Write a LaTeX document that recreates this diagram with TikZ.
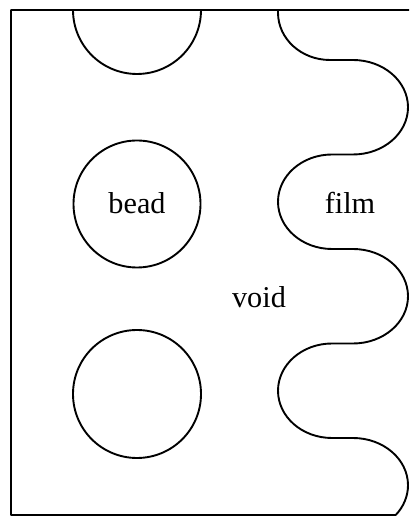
\documentclass[tikz,border=0pt]{standalone}
\usepackage{fontspec}
\setmainfont{Liberation Serif}
\begin{document}
\begin{tikzpicture}[x=0.025cm, y=0.025cm,
    outline/.style={line width=1.35pt, line join=round},
    lbl/.style={font=\fontsize{21.5}{24}\selectfont, inner sep=0pt}]
    \useasboundingbox (0,0) rectangle (409,517);

    % 小球
    \draw[outline] (73,507) arc (180:360:64);
    \draw[outline] (137,313) circle (63.5);
    \draw[outline] (137,123) circle (64);

    % 膜的波形边界
    \draw[outline] (278,507) -- (278,504.25)
        arc (180:270:52 and 47.25) -- (353,457)
        arc (90:-90:55 and 47.25) -- (332,362.5)
        arc (90:270:54 and 47.25) -- (353,268)
        arc (90:-90:55 and 47.25) -- (332,173.5)
        arc (90:270:54 and 47.25) -- (353,79)
        arc (90:-39:55 and 47.25) coordinate (filmend);

    % 外框 (上, 左, 下)
    \draw[outline] (409,507) -- (11,507) -- (11,2) -- (filmend);

    % 标注
    \node[lbl] (bead) at (137,314) {bead};
    \node[lbl] (film) at (350,314) {film};
    \node[lbl] (void) at (259,220) {void};
\end{tikzpicture}
\end{document}
